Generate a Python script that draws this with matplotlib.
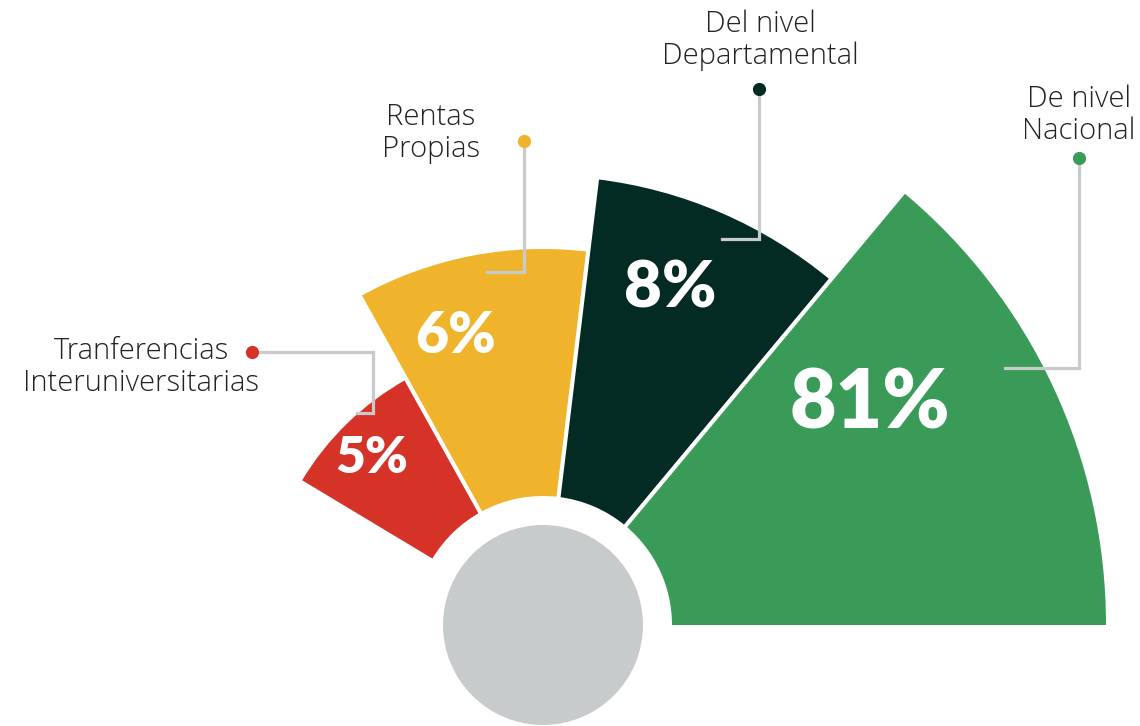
import matplotlib
matplotlib.use("Agg")
import matplotlib.pyplot as plt
from matplotlib.patches import Wedge, Circle
import numpy as np

# ---- data ----
categories = ["Tranferencias\nInteruniversitarias", "Rentas\nPropias",
              "Del nivel\nDepartamental", "De nivel\nNacional"]
values = [5, 6, 8, 81]
colors = ["#d63328", "#f0b42c", "#032b24", "#3a9b58"]

# ---- layout (pixels, y downward) ----
W, H = 1140, 726
cx, cy = 543, 625
r_inner = 129
outer_r = [281, 376, 449, 563]
theta_spans = [(119.1, 149.0), (83.1, 119.1), (50.2, 83.1), (0.0, 50.2)]
label_pos = [(372, 458), (456, 336), (670, 289), (870, 405)]
label_size = [37, 41, 47, 58]
# leader polyline: dot, corner, end
leaders = [
    [(252, 352), (373, 352), (373, 413), (357, 413)],
    [(524, 141), (524, 272), (487, 272)],
    [(759, 89), (759, 239), (722, 239)],
    [(1079, 158), (1079, 368), (1005, 368)],
]
text_pos = [(141, 367), (431, 133), (760, 40), (1079, 115)]

fig = plt.figure(figsize=(W / 100, H / 100), dpi=100)
ax = fig.add_axes([0, 0, 1, 1])
ax.set_xlim(0, W)
ax.set_ylim(H, 0)
ax.axis("off")

for v, col, r, (t1, t2) in zip(values, colors, outer_r, theta_spans):
    ax.add_patch(Wedge((cx, cy), r, -t2, -t1, width=r - r_inner,
                       facecolor=col, edgecolor="none", zorder=1))

# white gaps between wedges
for t in [50.2, 83.1, 119.1]:
    a = np.deg2rad(t)
    ax.plot([cx + 100 * np.cos(a), cx + 620 * np.cos(a)],
            [cy - 100 * np.sin(a), cy - 620 * np.sin(a)],
            color="white", lw=3.0, solid_capstyle="butt", zorder=2)

ax.add_patch(Circle((cx, cy), 100, facecolor="#c8cbcb", edgecolor="none", zorder=3))

line_col = "#c8cbcb"
for pts, col in zip(leaders, colors):
    xs = [p[0] for p in pts]
    ys = [p[1] for p in pts]
    ax.plot(xs, ys, color=line_col, lw=2.3, solid_joinstyle="miter", zorder=4)
    ax.plot([xs[0]], [ys[0]], "o", ms=9.5, color=col, mec="none", zorder=5)

for cat, (x, y) in zip(categories, text_pos):
    ax.text(x, y, cat, ha="center", va="center", fontsize=21, color="#222222",
            family="Open Sans", fontweight="light", linespacing=1.13, zorder=6)

for v, (x, y), s in zip(values, label_pos, label_size):
    ax.text(x, y, f"{v}%", ha="center", va="center", fontsize=s,
            color="white", family="Lato", fontweight="heavy", zorder=6)

fig.savefig("out.png", dpi=100, facecolor="white")
